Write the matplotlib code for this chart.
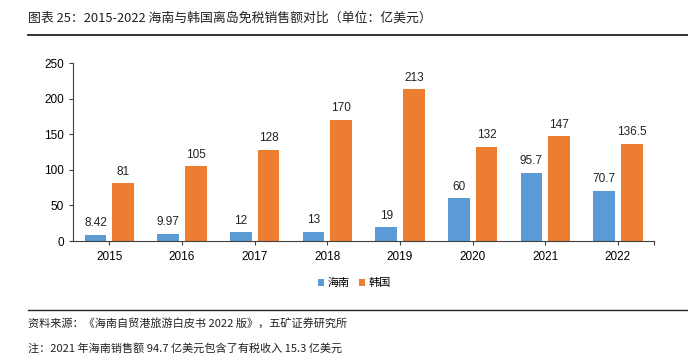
import matplotlib
matplotlib.use("Agg")
import matplotlib.pyplot as plt
import numpy as np

plt.rcParams["font.family"] = ["Liberation Sans", "Noto Sans CJK SC", "DejaVu Sans"]

years = ["2015", "2016", "2017", "2018", "2019", "2020", "2021", "2022"]
hainan = [8.42, 9.97, 12, 13, 19, 60, 95.7, 70.7]
korea = [81, 105, 128, 170, 213, 132, 147, 136.5]
hainan_labels = ["8.42", "9.97", "12", "13", "19", "60", "95.7", "70.7"]
korea_labels = ["81", "105", "128", "170", "213", "132", "147", "136.5"]

BLUE = "#5B9BD5"
ORANGE = "#ED7D31"
AXIS = "#404040"
CJK = ["Noto Sans CJK SC", "DejaVu Sans"]

fig = plt.figure(figsize=(6.88, 3.56), dpi=100)
ax = fig.add_axes([0.106, 0.323, 0.845, 0.5])

x = np.arange(len(years))
w = 0.30
off = 0.19
ax.bar(x - off, hainan, w, color=BLUE, label="海南")
ax.bar(x + off, korea, w, color=ORANGE, label="韩国")

for xi, v, s in zip(x, hainan, hainan_labels):
    ax.text(xi - off, v + 8, s, ha="center", va="bottom", fontsize=8.5, color="#222222")
for xi, v, s in zip(x, korea, korea_labels):
    ax.text(xi + off, v + 8, s, ha="center", va="bottom", fontsize=8.5, color="#222222")

ax.set_xlim(-0.5, len(years) - 0.5)
ax.set_ylim(0, 250)
ax.set_yticks([0, 50, 100, 150, 200, 250])
ax.set_xticks(x)
ax.set_xticklabels(years)
# only the closing tick at the right end of the axis
ax.set_xticks([len(years) - 0.5], minor=True)
ax.tick_params(axis="both", labelsize=8.5, color=AXIS, length=3, width=0.8)
ax.tick_params(axis="x", which="minor", length=3, color=AXIS, width=0.8)
ax.tick_params(axis="x", pad=4)
for side in ["top", "right"]:
    ax.spines[side].set_visible(False)
for side in ["left", "bottom"]:
    ax.spines[side].set_color(AXIS)
    ax.spines[side].set_linewidth(0.8)

leg = fig.legend(loc="center", bbox_to_anchor=(0.515, 0.205), ncol=2, frameon=False,
                 prop={"family": CJK, "size": 8}, handlelength=0.6, handleheight=0.6,
                 handletextpad=0.3, columnspacing=0.8)

fig.text(0.04, 0.95, "图表 25：2015-2022 海南与韩国离岛免税销售额对比（单位：亿美元）",
         fontsize=9.3, family=CJK, va="center", ha="left", color="#222222")
fig.add_artist(plt.Line2D([0.04, 1.0], [0.902, 0.902], color="#222222", linewidth=1.3))
fig.add_artist(plt.Line2D([0.04, 1.0], [0.128, 0.128], color="#222222", linewidth=1.0))
fig.text(0.04, 0.093, "资料来源：《海南自贸港旅游白皮书 2022 版》，五矿证券研究所",
         fontsize=8, family=CJK, va="center", ha="left", color="#222222")
fig.text(0.04, 0.022, "注：2021 年海南销售额 94.7 亿美元包含了有税收入 15.3 亿美元",
         fontsize=8, family=CJK, va="center", ha="left", color="#222222")

fig.savefig("out.png", dpi=100, facecolor="white")
